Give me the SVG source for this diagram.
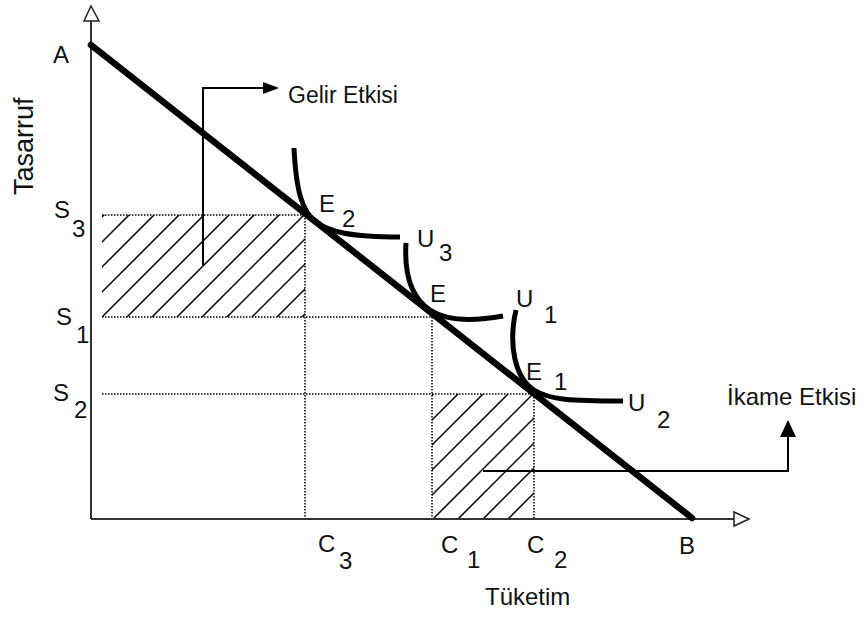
<svg xmlns="http://www.w3.org/2000/svg" width="866" height="618" viewBox="0 0 866 618">
<defs>
<style>
.ax{stroke:#333;stroke-width:2;fill:none}
.ah{fill:#fff;stroke:#222;stroke-width:1.5}
.bl{stroke:#000;stroke-width:6.5;fill:none;stroke-linecap:round}
.cv{stroke:#000;stroke-width:5;fill:none}
.dt{stroke:#000;stroke-width:1.5;stroke-dasharray:1.5 1.5;fill:none}
.ht{stroke:#000;stroke-width:1.5}
.cn{stroke:#000;stroke-width:2;fill:none}
text{font-family:"Liberation Sans",Arial,sans-serif;font-size:24px;fill:#111}
</style>
<clipPath id="c1"><rect x="102" y="215" width="203" height="102"/></clipPath>
<clipPath id="c2"><rect x="432" y="394" width="102" height="125"/></clipPath>
</defs>
<rect width="866" height="618" fill="#fff"/>

<g id="hatch-gelir" clip-path="url(#c1)">
<line class="ht" x1="319" y1="0" x2="-181" y2="500"/>
<line class="ht" x1="344" y1="0" x2="-156" y2="500"/>
<line class="ht" x1="369" y1="0" x2="-131" y2="500"/>
<line class="ht" x1="394" y1="0" x2="-106" y2="500"/>
<line class="ht" x1="419" y1="0" x2="-81" y2="500"/>
<line class="ht" x1="444" y1="0" x2="-56" y2="500"/>
<line class="ht" x1="469" y1="0" x2="-31" y2="500"/>
<line class="ht" x1="494" y1="0" x2="-6" y2="500"/>
<line class="ht" x1="519" y1="0" x2="19" y2="500"/>
<line class="ht" x1="544" y1="0" x2="44" y2="500"/>
<line class="ht" x1="569" y1="0" x2="69" y2="500"/>
<line class="ht" x1="594" y1="0" x2="94" y2="500"/>
<line class="ht" x1="619" y1="0" x2="119" y2="500"/>
</g>
<g id="hatch-ikame" clip-path="url(#c2)">
<line class="ht" x1="827" y1="0" x2="227" y2="600"/>
<line class="ht" x1="852" y1="0" x2="252" y2="600"/>
<line class="ht" x1="877" y1="0" x2="277" y2="600"/>
<line class="ht" x1="902" y1="0" x2="302" y2="600"/>
<line class="ht" x1="927" y1="0" x2="327" y2="600"/>
<line class="ht" x1="952" y1="0" x2="352" y2="600"/>
<line class="ht" x1="977" y1="0" x2="377" y2="600"/>
<line class="ht" x1="1002" y1="0" x2="402" y2="600"/>
<line class="ht" x1="1027" y1="0" x2="427" y2="600"/>
<line class="ht" x1="1052" y1="0" x2="452" y2="600"/>
</g>

<g id="guides">
<line class="dt" x1="102" y1="215" x2="305" y2="215"/>
<line class="dt" x1="102" y1="317" x2="432" y2="317"/>
<line class="dt" x1="102" y1="394" x2="534" y2="394"/>
<line class="dt" x1="305" y1="215" x2="305" y2="519"/>
<line class="dt" x1="432" y1="317" x2="432" y2="519"/>
<line class="dt" x1="534" y1="394" x2="534" y2="519"/>
</g>

<g id="axes">
<line class="ax" x1="91" y1="8" x2="91" y2="519"/>
<line class="ax" x1="91" y1="519" x2="747" y2="519"/>
<polygon class="ah" points="91,6 99,21 84,21"/>
<polygon class="ah" points="749,519 734,526 734,512"/>
</g>

<g id="budget-line"><line class="bl" x1="91" y1="45" x2="692" y2="518"/></g>

<g id="U3"><path class="cv" d="M294,148 C296,190 302,212 316,222 C330,232 350,237 400,237"/></g>
<g id="U1"><path class="cv" d="M406,243 C404,275 412,298 430,310 C445,320 470,322 503,316"/></g>
<g id="U2"><path class="cv" d="M516,310 C508,345 515,378 534,390 C550,400 570,401 623,401"/></g>

<g id="connectors">
<path class="cn" d="M203,265 V88 H265"/>
<polygon points="263,82 279,88 263,94" fill="#000"/>
<path class="cn" d="M483,471 H788 V436"/>
<polygon points="780,437 788,420 796,437" fill="#000"/>
</g>

<g id="labels">
<text x="53" y="63">A</text>
<text x="54" y="218">S</text><text x="72" y="237">3</text>
<text x="56" y="325">S</text><text x="76" y="343">1</text>
<text x="53" y="401">S</text><text x="74" y="418">2</text>
<text x="318" y="552">C</text><text x="339" y="569">3</text>
<text x="441" y="553">C</text><text x="467" y="568">1</text>
<text x="527" y="553">C</text><text x="554" y="568">2</text>
<text x="679" y="554">B</text>
<text x="485" y="605">Tüketim</text>
<text transform="translate(33,195) rotate(-90)" style="font-size:27px">Tasarruf</text>
<text x="319" y="212">E</text><text x="342" y="227">2</text>
<text x="417" y="247">U</text><text x="439" y="261">3</text>
<text x="430" y="302">E</text>
<text x="516" y="307">U</text><text x="544" y="323">1</text>
<text x="526" y="380">E</text><text x="554" y="390">1</text>
<text x="628" y="411">U</text><text x="657" y="428">2</text>
<text x="288" y="103" style="font-size:23px">Gelir Etkisi</text>
<text x="727" y="405">İkame Etkisi</text>
</g>
</svg>
